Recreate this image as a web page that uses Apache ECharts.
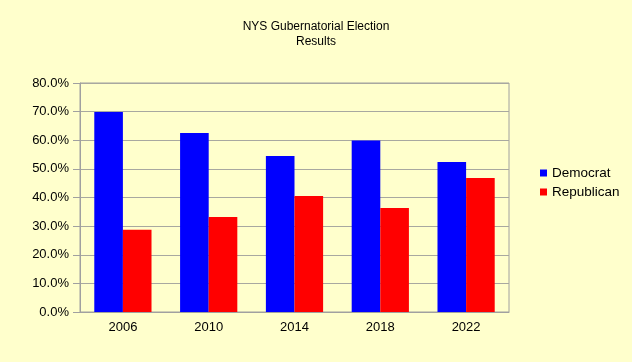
<!DOCTYPE html>
<html>
<head>
<meta charset="utf-8">
<script src="https://cdn.jsdelivr.net/npm/echarts@6/dist/echarts.min.js"></script>
<style>
html,body{margin:0;padding:0;background:#ffffcc;}
#c{width:632px;height:362px;}
</style>
</head>
<body>
<div id="c"></div>
<script>
var categories = ['2006', '2010', '2014', '2018', '2022'];
var democrat = [69.9, 62.5, 54.5, 59.9, 52.4];
var republican = [28.7, 33.2, 40.5, 36.3, 46.8];
var seriesNames = ['Democrat', 'Republican'];
var titleText = 'NYS Gubernatorial Election\nResults';

var chart = echarts.init(document.getElementById('c'), null, {renderer: 'canvas'});
var font = 'Liberation Sans, Arial, sans-serif';
chart.setOption({
  backgroundColor: '#ffffcc',
  animation: false,
  textStyle: {fontFamily: font},
  title: {
    text: titleText,
    left: 311, top: 14, textAlign: 'center',
    textStyle: {fontSize: 12, fontWeight: 'normal', color: '#000', lineHeight: 15, fontFamily: font}
  },
  legend: {
    orient: 'vertical',
    left: 535, top: 161,
    itemWidth: 7, itemHeight: 7, itemGap: 5,
    icon: 'rect',
    textStyle: {fontSize: 13.5, color: '#000', fontFamily: font},
    data: seriesNames
  },
  grid: {
    left: 80, right: 123, top: 83, bottom: 50,
    show: true, borderColor: '#a0a0a0', borderWidth: 1, backgroundColor: 'transparent'
  },
  xAxis: {
    type: 'category',
    data: categories,
    axisLine: {lineStyle: {color: '#a0a0a0'}},
    axisTick: {length: 5, lineStyle: {color: '#a0a0a0'}},
    axisLabel: {color: '#000', fontSize: 13, margin: 9, fontFamily: font}
  },
  yAxis: {
    type: 'value',
    min: 0, max: 80, interval: 10,
    axisLine: {show: true, lineStyle: {color: '#a0a0a0'}},
    axisTick: {show: true, length: 7, lineStyle: {color: '#a0a0a0'}},
    splitLine: {lineStyle: {color: '#a8a8a0'}},
    axisLabel: {color: '#000', fontSize: 13, margin: 11, fontFamily: font,
      formatter: function (v) { return v.toFixed(1) + '%'; }}
  },
  series: [
    {name: seriesNames[0], type: 'bar', data: democrat, barGap: '0%', barCategoryGap: '33.3%',
     itemStyle: {color: '#0000ff'}},
    {name: seriesNames[1], type: 'bar', data: republican, barGap: '0%', barCategoryGap: '33.3%',
     itemStyle: {color: '#ff0000'}}
  ]
});
</script>
</body>
</html>
